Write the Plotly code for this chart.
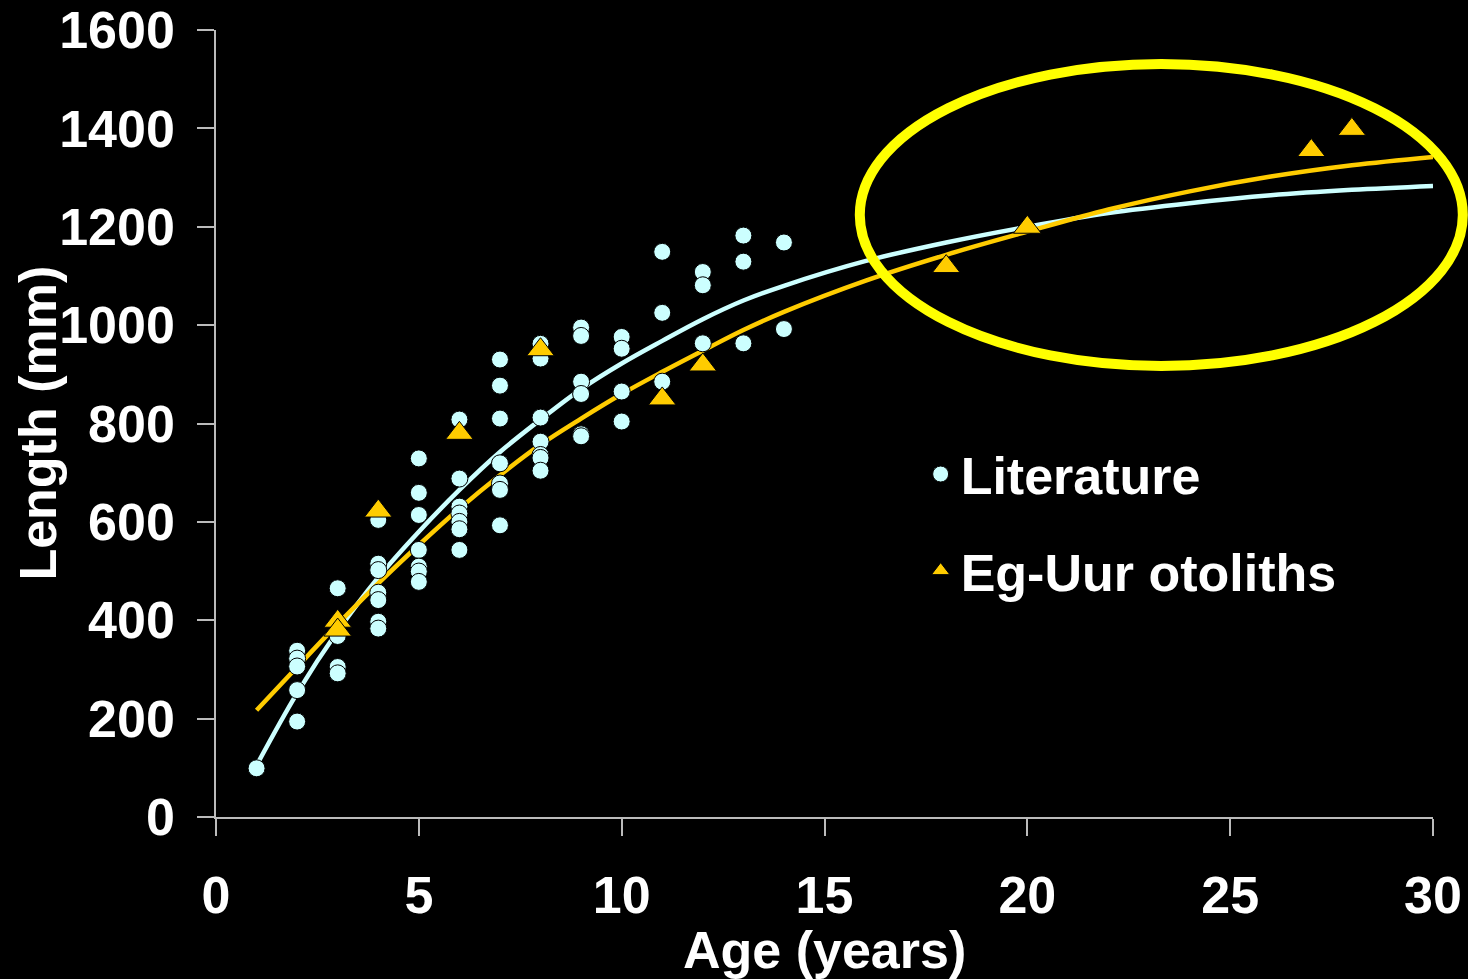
import plotly.graph_objects as go

# ---------------- data ----------------
lit_age = [1,
           2, 2, 2, 2, 2,
           3, 3, 3, 3,
           4, 4, 4, 4, 4, 4, 4,
           5, 5, 5, 5, 5, 5, 5,
           6, 6, 6, 6, 6, 6, 6,
           7, 7, 7, 7, 7, 7, 7,
           8, 8, 8, 8, 8, 8, 8,
           9, 9, 9, 9, 9, 9,
           10, 10, 10, 10,
           11, 11, 11,
           12, 12, 12,
           13, 13, 13,
           14, 14]
lit_len = [99,
           338, 322, 306, 258, 194,
           465, 368, 305, 292,
           604, 515, 502, 456, 441, 397, 383,
           729, 659, 614, 543, 509, 499, 478,
           808, 688, 631, 617, 600, 585, 543,
           930, 877, 810, 719, 678, 665, 593,
           962, 932, 812, 763, 736, 730, 704,
           995, 978, 885, 860, 778, 774,
           976, 952, 865, 804,
           1149, 1025, 885,
           1108, 1081, 963,
           1182, 1129, 963,
           1168, 992]

egu_age = [3, 3, 4, 6, 8, 11, 12, 18, 20, 27, 28]
egu_len = [398, 380, 622, 780, 950, 850, 919, 1119, 1199, 1355, 1398]

fit_lit_age = [1, 2, 3, 4, 5, 6, 7, 8, 9, 10, 11, 12, 13, 14, 16, 18, 20, 22, 24, 26, 28, 30]
fit_lit_len = [105, 252, 378, 487, 580, 665, 742, 808, 870, 922, 968, 1012, 1050, 1080,
               1130, 1168, 1200, 1228, 1248, 1264, 1275, 1283]

fit_egu_age = [1, 2, 3, 4, 5, 6, 7, 8, 9, 10, 11, 12, 13, 14, 16, 18, 20, 22, 24, 26, 28, 30]
fit_egu_len = [217, 305, 392, 475, 553, 627, 695, 757, 810, 860, 905, 948, 990, 1027,
               1090, 1143, 1190, 1235, 1272, 1302, 1325, 1342]

x_ticks = [0, 5, 10, 15, 20, 25, 30]
y_ticks = [0, 200, 400, 600, 800, 1000, 1200, 1400, 1600]

# ---------------- styles ----------------
CYAN = "#CCFFFF"
ORANGE = "#FFCC00"
YELLOW = "#FFFF00"
AXIS = "#BBBBBB"
FONT = dict(family="Liberation Sans, Arial, sans-serif", size=52, color="white", weight="bold")

fig = go.Figure()

fig.add_trace(go.Scatter(x=fit_lit_age, y=fit_lit_len, mode="lines",
                         line=dict(color=CYAN, width=4.5, shape="spline"),
                         showlegend=False, hoverinfo="skip"))
fig.add_trace(go.Scatter(x=fit_egu_age, y=fit_egu_len, mode="lines",
                         line=dict(color=ORANGE, width=4.5, shape="spline"),
                         showlegend=False, hoverinfo="skip"))
fig.add_trace(go.Scatter(x=lit_age, y=lit_len, mode="markers", name="Literature",
                         legendgroup="a",
                         marker=dict(symbol="circle", size=17, color=CYAN,
                                     line=dict(color="black", width=1))))
fig.add_trace(go.Scatter(x=egu_age, y=egu_len, mode="markers", name="Eg-Uur otoliths",
                         legendgroup="b",
                         marker=dict(symbol="triangle-up", size=24, color=ORANGE,
                                     line=dict(color="black", width=1))))

axis_common = dict(showline=True, linecolor=AXIS, linewidth=1.5,
                   ticks="outside", ticklen=17, tickcolor=AXIS, tickwidth=1.5,
                   showgrid=False, zeroline=False, tickfont=FONT, automargin=False)

fig.update_xaxes(range=[0, 30], tickvals=x_ticks, ticklabelstandoff=15, **axis_common)
fig.update_yaxes(range=[0, 1600], tickvals=y_ticks, ticklabelstandoff=12, **axis_common)

# highlight ellipse (paper coordinates so it can extend past the plot area)
fig.add_shape(type="circle", xref="paper", yref="paper",
              x0=0.529, x1=1.0245, y0=0.573, y1=0.9568,
              line=dict(color=YELLOW, width=10), layer="above")

fig.add_annotation(text="Length (mm)", xref="paper", yref="paper",
                   x=-0.147, y=0.5, xanchor="center", yanchor="middle",
                   textangle=-90, showarrow=False, font=FONT)
fig.add_annotation(text="Age (years)", xref="paper", yref="paper",
                   x=0.5, y=-0.13, xanchor="center", yanchor="top",
                   showarrow=False, font=FONT)

fig.update_layout(
    width=1468, height=979,
    margin=dict(l=216, r=35, t=30, b=162),
    paper_bgcolor="black", plot_bgcolor="black",
    font=FONT,
    showlegend=True,
    legend=dict(x=0.579, y=0.487, xanchor="left", yanchor="top",
                bgcolor="rgba(0,0,0,0)", font=FONT, tracegroupgap=26,
                itemsizing="trace"),
)

fig.write_html("out.html")
